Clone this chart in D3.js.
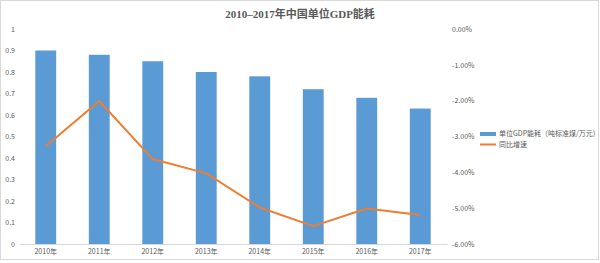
<!DOCTYPE html>
<html>
<head>
<meta charset="utf-8">
<script src="https://cdn.jsdelivr.net/npm/d3@7"></script>
<style>
  body { margin: 0; background: #fff; }
  text { font-family: "Noto Sans CJK SC", "Noto Sans", sans-serif; }
</style>
</head>
<body>
<svg id="chart" width="600" height="263"></svg>
<script>
// data
var years = ["2010年", "2011年", "2012年", "2013年", "2014年", "2015年", "2016年", "2017年"];
var energy = [0.90, 0.88, 0.85, 0.80, 0.78, 0.72, 0.68, 0.63];
var growth = [-3.27, -2.01, -3.63, -4.03, -4.98, -5.50, -5.01, -5.19];
var leftTicks = [0, 0.1, 0.2, 0.3, 0.4, 0.5, 0.6, 0.7, 0.8, 0.9, 1];
var rightTicks = [0, -1, -2, -3, -4, -5, -6];
var legendNames = ["单位GDP能耗（吨标准煤/万元）", "同比增速"];

var svg = d3.select("#chart");
var plotL = 19, plotR = 447, plotT = 29, plotB = 244;

svg.append("rect").attr("x", 0.5).attr("y", 0.5).attr("width", 598).attr("height", 259)
  .attr("fill", "#fff").attr("stroke", "#d9d9d9");

var x = d3.scaleBand().domain(years).range([plotL, plotR]).paddingInner(0.61).paddingOuter(0.305);
var y = d3.scaleLinear().domain([0, 1]).range([plotB, plotT]);
var y2 = d3.scaleLinear().domain([-6, 0]).range([plotB, plotT]);

// bars
svg.append("g").selectAll("rect").data(energy).enter().append("rect")
  .attr("x", function (d, i) { return x(years[i]); })
  .attr("y", function (d) { return y(d); })
  .attr("width", x.bandwidth())
  .attr("height", function (d) { return y(0) - y(d); })
  .attr("fill", "#5b9bd5");

// left axis
var ax = svg.append("g").attr("transform", "translate(" + (plotL - 4) + ",0)")
  .call(d3.axisLeft(y).tickValues(leftTicks).tickSize(0).tickFormat(function (d) { return String(+d.toFixed(1)); }));
ax.select(".domain").remove();
ax.selectAll("text").attr("fill", "#595959").style("font-size", "7px").attr("x", 0);

// right axis
var ay = svg.append("g").attr("transform", "translate(452,0)")
  .call(d3.axisRight(y2).tickValues(rightTicks).tickSize(0).tickFormat(function (d) { return d.toFixed(2) + "%"; }));
ay.select(".domain").remove();
ay.selectAll("text").attr("fill", "#595959").style("font-size", "7px").attr("x", 0);

// x axis
var axb = svg.append("g").attr("transform", "translate(0," + plotB + ")")
  .call(d3.axisBottom(x).tickSize(0));
axb.select(".domain").attr("stroke", "#d9d9d9");
axb.selectAll("text").attr("fill", "#595959").style("font-size", "7px").attr("dy", "0.71em").attr("y", 5);

// growth line
var line = d3.line()
  .x(function (d, i) { return x(years[i]) + x.bandwidth() / 2; })
  .y(function (d) { return y2(d); });
svg.append("path").datum(growth).attr("d", line)
  .attr("fill", "none").attr("stroke", "#ed7d31").attr("stroke-width", 2).attr("stroke-linejoin", "round");

// title
svg.append("text").attr("x", 300).attr("y", 18).attr("text-anchor", "middle")
  .attr("fill", "#595959").style("font-size", "11px").style("font-weight", "bold")
  .style("font-family", "'Liberation Serif', 'Noto Sans CJK SC', serif")
  .text("2010–2017年中国单位GDP能耗");

// legend
var lg = svg.append("g");
lg.append("rect").attr("x", 480).attr("y", 132).attr("width", 16).attr("height", 4).attr("fill", "#5b9bd5");
lg.append("line").attr("x1", 480).attr("x2", 496).attr("y1", 144.5).attr("y2", 144.5)
  .attr("stroke", "#ed7d31").attr("stroke-width", 2);
lg.selectAll("text").data(legendNames).enter().append("text")
  .attr("x", 499).attr("y", function (d, i) { return 134 + i * 11; }).attr("dy", "0.35em")
  .attr("fill", "#595959").style("font-size", "7px").text(function (d) { return d; });
</script>
</body>
</html>
